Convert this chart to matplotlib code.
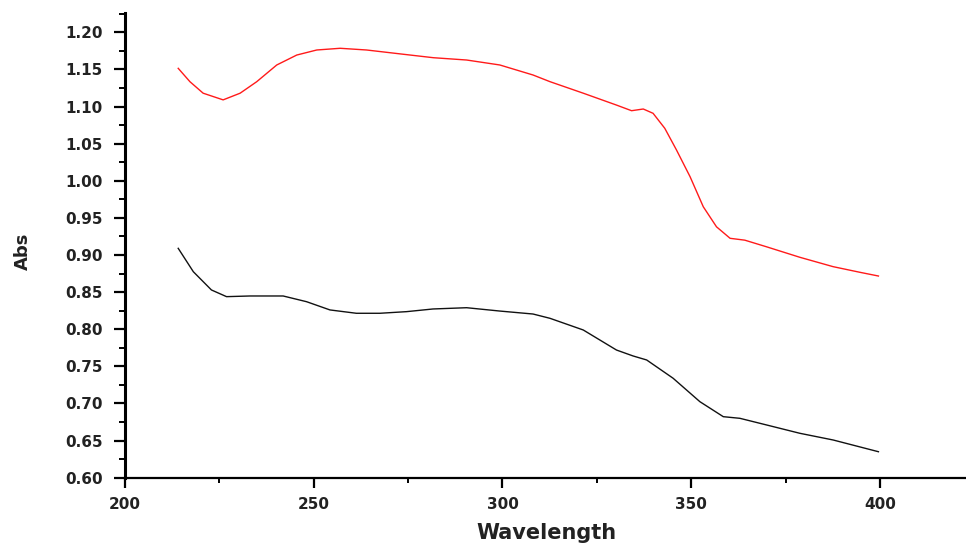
import matplotlib
matplotlib.use("Agg")
import matplotlib.pyplot as plt
from matplotlib.ticker import MultipleLocator, FormatStrFormatter

# red curve (upper)
wl_red = [214.1, 217.2, 220.7, 226.0, 230.5, 234.9, 240.2, 245.5, 250.8, 257.0,
          264.0, 272.8, 281.7, 290.5, 299.3, 308.1, 312.6, 321.4, 330.2, 334.2,
          337.3, 339.9, 343.0, 346.1, 349.7, 353.2, 356.7, 360.3, 364.2, 370.0,
          378.8, 387.6, 394.7, 399.6]
abs_red = [1.1515, 1.1335, 1.118, 1.109, 1.118, 1.1335, 1.156, 1.1694, 1.1762, 1.1785,
           1.1762, 1.171, 1.1658, 1.1627, 1.156, 1.1425, 1.1335, 1.118, 1.102, 1.0944,
           1.0967, 1.0909, 1.0707, 1.0415, 1.0055, 0.965, 0.938, 0.9225, 0.920, 0.911,
           0.8969, 0.8843, 0.8767, 0.8717]

# black curve (lower)
wl_black = [214.1, 218.1, 222.9, 226.9, 233.1, 241.9, 248.1, 254.3, 261.3, 267.5,
            274.6, 281.6, 290.5, 299.3, 308.1, 312.6, 321.4, 330.2, 334.6, 338.2,
            345.2, 352.3, 358.5, 362.9, 370.0, 378.8, 387.6, 399.6]
abs_black = [0.909, 0.8775, 0.8529, 0.8439, 0.8448, 0.8448, 0.8371, 0.826, 0.8215, 0.8215,
             0.8237, 0.8273, 0.829, 0.8245, 0.8205, 0.8147, 0.799, 0.772, 0.764, 0.7586,
             0.734, 0.7024, 0.6822, 0.680, 0.671, 0.6598, 0.6508, 0.635]

fig = plt.figure(figsize=(9.66, 5.46), dpi=100)
ax = fig.add_axes([0.1294, 0.1251, 0.8706, 0.8505])

ax.plot(wl_red, abs_red, color="#ff1a1a", lw=1.0)
ax.plot(wl_black, abs_black, color="#111111", lw=1.0)

ax.set_xlim(200, 422.8)
ax.set_ylim(0.60, 1.2256)

ax.xaxis.set_major_locator(MultipleLocator(50))
ax.xaxis.set_minor_locator(MultipleLocator(25))
ax.yaxis.set_major_locator(MultipleLocator(0.05))
ax.yaxis.set_minor_locator(MultipleLocator(0.025))
ax.yaxis.set_major_formatter(FormatStrFormatter("%.2f"))

for s in ["top", "right"]:
    ax.spines[s].set_visible(False)
ax.spines["left"].set_linewidth(2.2)
ax.spines["bottom"].set_linewidth(1.6)

ax.tick_params(axis="both", which="major", direction="out", length=8, width=1.6,
               labelsize=11, labelcolor="#222222", pad=8)
ax.tick_params(axis="both", which="minor", direction="out", length=4.5, width=1.4)
ax.tick_params(axis="x", which="major", length=7, pad=7)
ax.tick_params(axis="x", which="minor", length=3.5)
for lab in ax.get_xticklabels() + ax.get_yticklabels():
    lab.set_fontweight("bold")

ax.set_xlabel("Wavelength", fontsize=15, fontweight="bold", color="#222222")
ax.xaxis.set_label_coords(0.501, -0.097)
ax.set_ylabel("Abs", fontsize=13, fontweight="bold", color="#222222")
ax.yaxis.set_label_coords(-0.1106, 0.488)

fig.savefig("out.png", dpi=100)
